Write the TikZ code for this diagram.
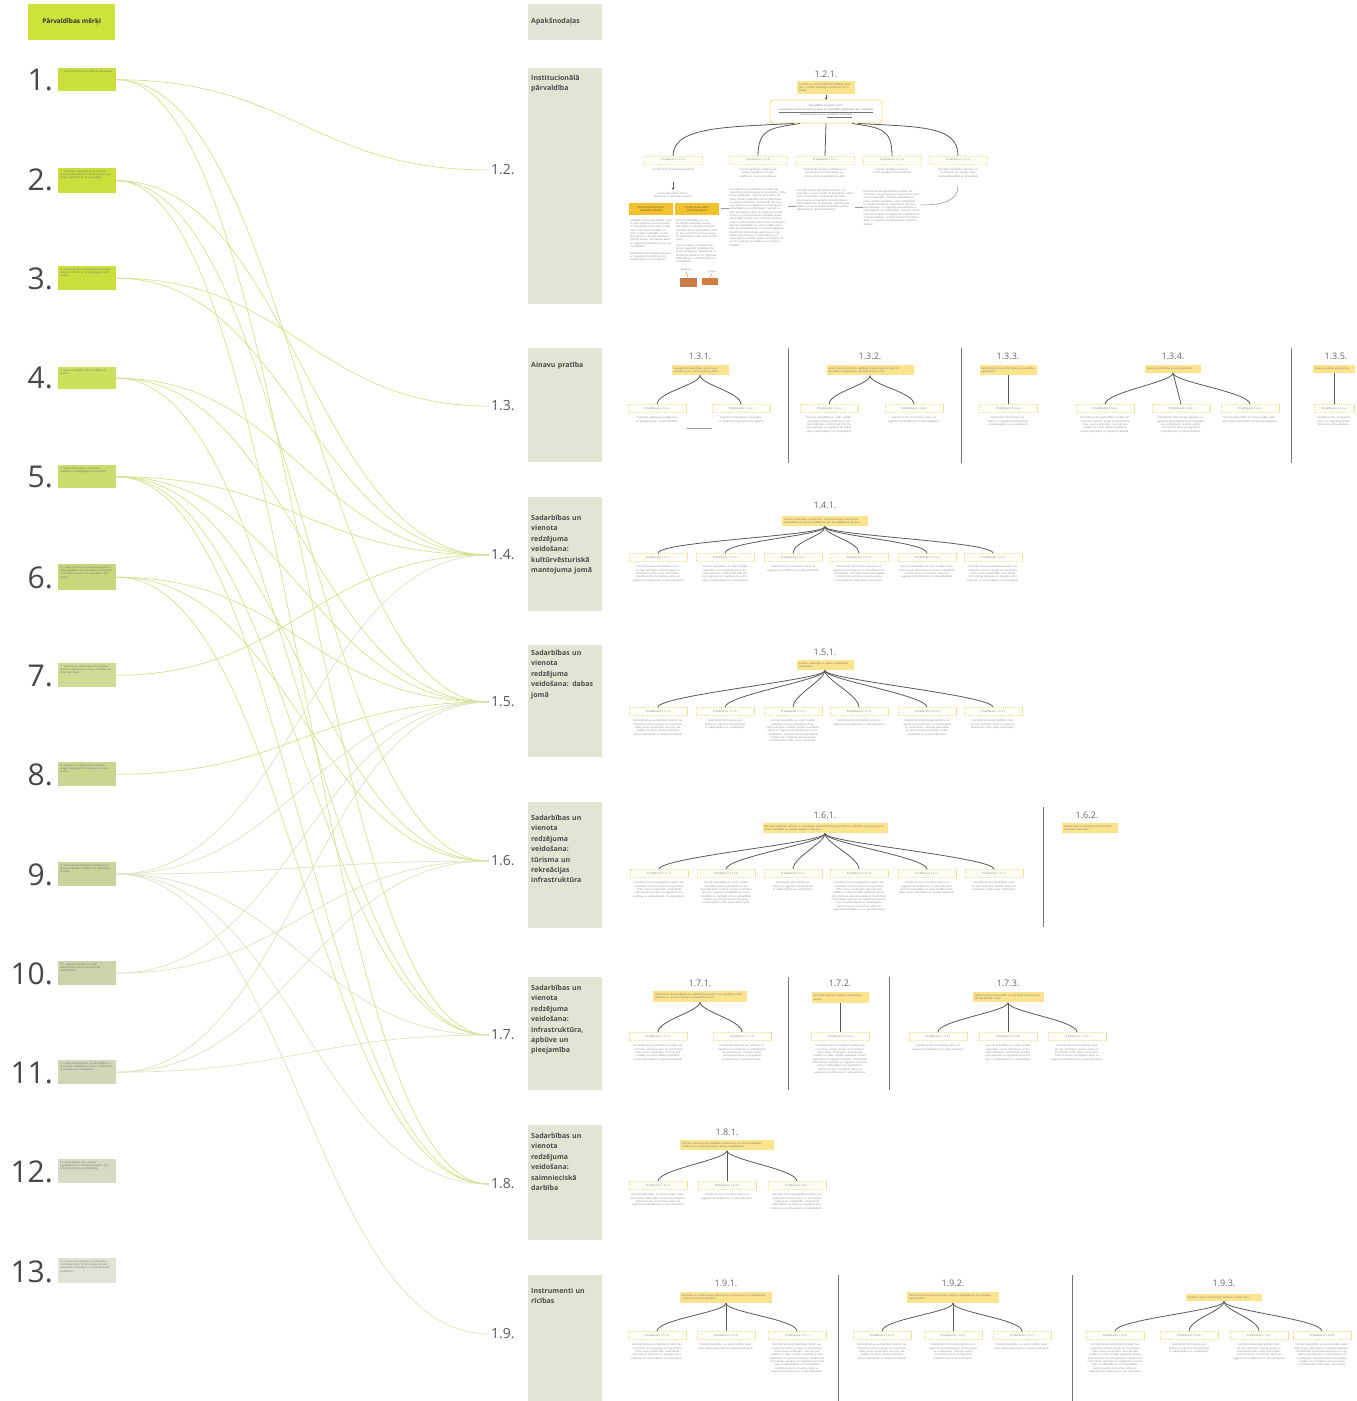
\documentclass[tikz,border=0pt]{standalone}
\usepackage{fontspec}
\setmainfont{Open Sans}
\usetikzlibrary{calc,arrows.meta}
\definecolor{hdr}{HTML}{CDE23B}
\definecolor{gA}{HTML}{CADF3C}
\definecolor{gB}{HTML}{CCE05C}
\definecolor{gC}{HTML}{C9DC6E}
\definecolor{gD}{HTML}{C6D77C}
\definecolor{gE}{HTML}{CFDB92}
\definecolor{gF}{HTML}{CAD690}
\definecolor{gG}{HTML}{C9D49C}
\definecolor{gH}{HTML}{CBD3A8}
\definecolor{gI}{HTML}{D1D6B6}
\definecolor{gJ}{HTML}{D6D9C4}
\definecolor{gK}{HTML}{E1E3D7}
\definecolor{secfill}{HTML}{E3E5D4}
\definecolor{ylw}{HTML}{FCE48E}
\definecolor{dsh}{HTML}{EEE0A0}
\definecolor{gold}{HTML}{F2C12E}
\definecolor{brn}{HTML}{C97A4A}
\definecolor{lnk}{HTML}{D3E38F}
\definecolor{lnkp}{HTML}{DDE3C2}
\newcommand\tf{\fontsize{2.6pt}{3.3pt}\selectfont}
\newcommand\secf{\fontsize{7pt}{10.4pt}\selectfont\bfseries}
\newcommand\numf{\fontsize{30pt}{30pt}\selectfont}
\newcommand\txA{Izstrādāt ainavu pārvaldības modeli, kas nodrošina vienotu pieeju un koordinētu rīcību starp institūcijām.}
\newcommand\txB{Veicināt pašvaldību un valsts iestāžu sadarbību ainavu plānošanā un apsaimniekošanā.}
\newcommand\txC{Nodrošināt informācijas apmaiņu un regulāras konsultācijas ar iedzīvotājiem un uzņēmējiem.}
\newcommand\txD{Izvērtēt esošos normatīvos aktus un sagatavot priekšlikumus to pilnveidošanai.}
\newcommand\txL{\txA{} \txB{} \txC{} \txD{}}
\newcommand\ttl[3]{\node[ttlf] at (#1,#2) {#3};}
\newcommand\yb[5]{\node[ybox, text width=#4] (#1) at (#2,#3) {#5};}
\newcommand\kid[5]{\node[kidbox] (#1) at (#2,#3) {Priekšlikums #4};
  \node[kidtxt, anchor=north] (#1t) at ([yshift=-4pt]#1.south) {#5};}
\newcommand\brn[2]{\draw[branch] (#1) .. controls +(0,9) and +(0,-12) .. (#2.north);}
\newcommand\gl[2]{\draw[link] (#1.east) .. controls +(175,0) and +(-175,0) .. (#2.west);}
\newcommand\glp[2]{\draw[link, draw=lnkp] (#1.east) .. controls +(175,0) and +(-175,0) .. (#2.west);}
\begin{document}
\begin{tikzpicture}[x=1pt,y=-1pt,
  goalbox/.style={fill=#1, minimum width=58pt, minimum height=24pt, anchor=north west, inner sep=0pt},
  goaltxt/.style={anchor=north west, text width=52pt, align=left, font=\tf, text=black!55, inner sep=2pt},
  num/.style={font=\numf, text=black!72, anchor=base east, inner sep=0pt},
  secbox/.style={fill=secfill, minimum width=74pt, anchor=north west, inner sep=0pt},
  sectxt/.style={anchor=north west, font=\secf, text=black!70, text width=70pt, align=left, inner sep=0pt},
  seclab/.style={font=\fontsize{14pt}{14pt}\selectfont, text=black!65, anchor=west, inner sep=2pt},
  link/.style={draw=lnk, line width=0.7pt},
  ttlf/.style={font=\fontsize{9pt}{9pt}\selectfont, text=black!60, inner sep=0pt},
  ybox/.style={fill=ylw, font=\tf, text=black!55, align=left, inner xsep=2pt, inner ysep=2.5pt},
  kidbox/.style={draw=dsh, dashed, dash pattern=on 1.2pt off 0.8pt, line width=0.5pt, fill=yellow!3, minimum width=58pt, minimum height=8pt, inner sep=0pt, font=\tf, text=black!50},
  kidtxt/.style={text width=55pt, align=center, font=\tf, text=black!45, inner sep=0pt},
  paratxt/.style={align=left, font=\tf, text=black!45, inner sep=0pt, anchor=north},
  branch/.style={draw=black!65, line width=0.8pt},
  divl/.style={draw=black!55, line width=0.8pt},
  tarrow/.style={draw=black!65, line width=0.6pt, -{Stealth[length=2.5pt,width=2.5pt]}}
]
\useasboundingbox (0,0) rectangle (1357,1401);
\fill[white] (0,0) rectangle (1357,1401);

% ---------- left column: goals ----------
\node[fill=hdr, minimum width=87pt, minimum height=36pt, anchor=north west, inner sep=0pt] (hdr) at (28,4) {};
\node[font=\fontsize{6.5pt}{8pt}\selectfont\bfseries, text=black!80] at (hdr.center) {Pārvaldības mērķi};

\node[goalbox=gA, minimum height=23pt] (g1) at (58,68) {};
\node[goaltxt] at (g1.north west) {1. Valsts ĪADT institucionālā un pārvaldība};
\node[num] at (53,90) {1.};
\node[goalbox=gA, minimum height=25pt] (g2) at (58,168) {};
\node[goaltxt] at (g2.north west) {2. Stiprināta sadarbība starp institūcijām un pašvaldībām, vienota izpratne par ainavu vērtībām un to aizsardzību};
\node[num] at (53,190) {2.};
\node[goalbox=gA] (g3) at (58,266) {};
\node[goaltxt] at (g3.north west) {3. Ainavu pratība sabiedrībā, izpratne par ainavu vērtībām un to ilgtspējīgu izmantošanu};
\node[num] at (53,289) {3.};
\node[goalbox=gB, minimum height=22pt] (g4) at (58,367) {};
\node[goaltxt] at (g4.north west) {4. Ainavu kvalitātes mērķi noteikti un ievēroti};
\node[num] at (53,388) {4.};
\node[goalbox=gC, minimum height=23pt] (g5) at (58,465) {};
\node[goaltxt] at (g5.north west) {5. Kultūrvēsturiskais mantojums saglabāts un ilgtspējīgi apsaimniekots};
\node[num] at (53,487) {5.};
\node[goalbox=gD, minimum height=26pt] (g6) at (58,564) {};
\node[goaltxt] at (g6.north west) {6. Dabas vērtības un ainaviskā daudzveidība saglabāta, veicinot dabas un kultūras mantojuma sasaisti un sabiedrības līdzdalību};
\node[num] at (53,588) {6.};
\node[goalbox=gE] (g7) at (58,663) {};
\node[goaltxt] at (g7.north west) {7. Tūrisma un rekreācijas infrastruktūra attīstīta, saskaņota ar ainavu vērtībām un vides nestspēju};
\node[num] at (53,686) {7.};
\node[goalbox=gF] (g8) at (58,762) {};
\node[goaltxt] at (g8.north west) {8. Apbūve un infrastruktūra iekļaujas ainavā, saglabājot tās raksturu un pieejamību};
\node[num] at (53,785) {8.};
\node[goalbox=gG] (g9) at (58,862) {};
\node[goaltxt] at (g9.north west) {9. Saimnieciskā darbība ir saskaņota ar ainavu kvalitātes mērķiem un ilgtspējīgu attīstību};
\node[num] at (53,885) {9.};
\node[goalbox=gH] (g10) at (58,961) {};
\node[goaltxt] at (g10.north west) {10. Lauksaimniecības un mežsaimniecības zemes ainaviski apsaimniekotas};
\node[num] at (53,984) {10.};
\node[goalbox=gI] (g11) at (58,1060) {};
\node[goaltxt] at (g11.north west) {11. Ainavu plānošanas un pārvaldības instrumenti izstrādāti un ieviesti, nodrošinot uzraudzību un novērtēšanu};
\node[num] at (53,1083) {11.};
\node[goalbox=gJ] (g12) at (58,1159) {};
\node[goaltxt] at (g12.north west) {12. Finansējuma avoti ainavu saglabāšanai un attīstībai pieejami, tos izmanto efektīvi un mērķtiecīgi};
\node[num] at (53,1182) {12.};
\node[goalbox=gK, minimum height=25pt] (g13) at (58,1258) {};
\node[goaltxt] at (g13.north west) {13. Ainavu monitorings un pētniecība nodrošina datus lēmumu pieņemšanai, sabiedrība informēta un iesaistīta ainavu jautājumos};
\node[num] at (53,1282) {13.};

% ---------- middle column: sections ----------
\node[secbox, minimum height=36pt] (h2) at (528,4) {};
\node[sectxt, anchor=west] at (531,22) {Apakšnodaļas};
\node[secbox, minimum height=236pt] (b2) at (528,68) {};
\node[sectxt] at (531,75) {Institucionālā\\pārvaldība};
\node[secbox, minimum height=114pt] (b3) at (528,348) {};
\node[sectxt] at (531,362) {Ainavu pratība};
\node[secbox, minimum height=114pt] (b4) at (528,497) {};
\node[sectxt] at (531,515) {Sadarbības un\\vienota\\redzējuma\\veidošana:\\kultūrvēsturiskā\\mantojuma jomā};
\node[secbox, minimum height=112pt] (b5) at (528,645) {};
\node[sectxt] at (531,650) {Sadarbības un\\vienota\\redzējuma\\veidošana: dabas\\jomā};
\node[secbox, minimum height=126pt] (b6) at (528,802) {};
\node[sectxt] at (531,815) {Sadarbības un\\vienota\\redzējuma\\veidošana:\\tūrisma un\\rekreācijas\\infrastruktūra};
\node[secbox, minimum height=113pt] (b7) at (528,977) {};
\node[sectxt] at (531,985) {Sadarbības un\\vienota\\redzējuma\\veidošana:\\infrastruktūra,\\apbūve un\\pieejamība};
\node[secbox, minimum height=115pt] (b8) at (528,1125) {};
\node[sectxt] at (531,1133) {Sadarbības un\\vienota\\redzējuma\\veidošana:\\saimnieciskā\\darbība};
\node[secbox, minimum height=126pt] (b9) at (528,1275) {};
\node[sectxt] at (531,1288) {Instrumenti un\\rīcības};

\node[seclab] (s2) at (489,170) {1.2.};
\node[seclab] (s3) at (489,406) {1.3.};
\node[seclab] (s4) at (489,555) {1.4.};
\node[seclab] (s5) at (489,702) {1.5.};
\node[seclab] (s6) at (489,861) {1.6.};
\node[seclab] (s7) at (489,1035) {1.7.};
\node[seclab] (s8) at (489,1184) {1.8.};
\node[seclab] (s9) at (489,1334) {1.9.};

% ---------- goal -> section links ----------
\gl{g1}{s2} \gl{g1}{s5} \gl{g1}{s7}
\gl{g2}{s4} \gl{g2}{s6} \gl{g2}{s8}
\gl{g3}{s3} \gl{g3}{s4}
\gl{g4}{s4} \gl{g4}{s5} \gl{g4}{s7}
\gl{g5}{s4} \gl{g5}{s5} \gl{g5}{s6} \gl{g5}{s7} \gl{g5}{s8}
\gl{g6}{s5} \gl{g6}{s6} \gl{g6}{s8}
\gl{g7}{s4}
\gl{g8}{s5}
\glp{g9}{s4} \glp{g9}{s5} \glp{g9}{s6} \glp{g9}{s7} \glp{g9}{s8} \glp{g9}{s9}
\glp{g10}{s5} \glp{g10}{s6}
\glp{g11}{s5} \glp{g11}{s6} \glp{g11}{s7}

% ---------- 1.2.1 ----------
\ttl{826}{74}{1.2.1.}
\yb{y121}{826}{87.5}{54}{Izveidot un uzturēt ĪADT pārvaldības struktūru, nosakot atbildīgās institūcijas un to lomas}
\draw[tarrow] (y121.south) -- (826,100);
\node[draw=ylw!90!orange, fill=white, rounded corners=3pt, line width=0.9pt, minimum width=112pt, minimum height=23pt, text width=100pt, align=center, font=\tf, text=black!55, inner sep=1pt] (w121) at (826,111.5) {Pārvaldības struktūra ietver \underline{koordinācijas padomi, darba grupas un pašvaldību pārstāvjus, kas nodrošina} vienotu pieeju ainavu \underline{jautājumu risināšanā}};
\kid{k121a}{673}{160}{1.2.1.a}{Izveidot ĪADT konsultatīvo padomi}
\kid{k121b}{758}{160}{1.2.1.b}{Izveidot pastāvīgu darba grupu ainavu jautājumos ar pašvaldību un nozaru pārstāvjiem}
\kid{k121c}{825}{160}{1.2.1.c}{Nodrošināt regulāru sanāksmju organizēšanu un informācijas apmaiņu starp iesaistītajām pusēm}
\kid{k121d}{892}{160}{1.2.1.d}{Noteikt atbildīgo institūciju ainavu jautājumu koordinācijai}
\kid{k121e}{958}{160}{1.2.1.e}{Izstrādāt sadarbības līgumus un vienošanās par kopīgu rīcību ainavu pārvaldībā un plānošanā}
\draw[branch] ($(w121.south)+(-32,0)$) .. controls (730,127) and (673,126) .. (k121a.north);
\draw[branch] ($(w121.south)+(-26,0)$) .. controls (772,128) and (758,128) .. (k121b.north);
\draw[branch] (w121.south) -- (k121c.north);
\draw[branch] ($(w121.south)+(26,0)$) .. controls (880,128) and (892,128) .. (k121d.north);
\draw[branch] ($(w121.south)+(32,0)$) .. controls (922,127) and (958,126) .. (k121e.north);
\draw[tarrow] (673,182) -- (673,190);
\node[kidtxt, anchor=north] (k121x) at (673,192) {Jaunu sadarbības formu ieviešana un institūciju iesaiste};
\node[fill=gold, minimum width=44pt, minimum height=12pt, text width=42pt, align=center, font=\tf, text=black!70, inner sep=0pt] (gd1) at (651,209) {Konsultatīvā padome\\pašvaldību līmenī};
\node[fill=gold, minimum width=44pt, minimum height=12pt, text width=42pt, align=center, font=\tf, text=black!70, inner sep=0pt] (gd2) at (697,209) {Darba grupa valsts\\institūciju līmenī};
\node[paratxt, text width=42pt] at (651,219) {\txA{} \txB{} \txD};
\node[paratxt, text width=42pt] at (651,252) {\txC};
\node[paratxt, text width=42pt] at (697,219) {\txB{} \txA};
\node[paratxt, text width=42pt] at (697,244) {\txD{} \txC};
\node[font=\tf, text=black!50, inner sep=0pt] (sm1) at (686,270) {padome};
\node[font=\tf, text=black!50, inner sep=0pt] (sm2) at (712,272) {grupa};
\node[fill=brn, minimum width=17pt, minimum height=9pt, inner sep=0pt] (br1) at (688,282) {};
\node[fill=brn!85!orange, minimum width=16pt, minimum height=7pt, inner sep=0pt] (br2) at (710,281) {};
\draw[draw=brn, line width=0.4pt] (sm1.south) -- (br1.north);
\draw[draw=brn, line width=0.4pt] (sm2.south) -- (br2.north);
\node[paratxt, text width=57pt] (p121b) at (758,188) {\txL{} \txL};
\node[paratxt, text width=57pt] (p121c) at (825,189) {\txA{} \txC{} \txB};
\node[paratxt, text width=57pt] (p121d) at (892,190) {\txL{} \txD};
\draw[draw=black!40, line width=0.4pt] (721,208) -- (729,208);
\draw[draw=black!40, line width=0.4pt] (788,206) -- (796,206);
\draw[draw=black!40, line width=0.4pt] (855,207) -- (863,207);
\draw[draw=black!45, line width=0.5pt] (958,186) .. controls (958,200) and (945,205) .. (921,205);

% ---------- 1.3 ----------
\draw[divl] (788,348) -- (788,463);
\draw[divl] (961,348) -- (961,463);
\draw[divl] (1291,348) -- (1291,463);
\ttl{700}{356}{1.3.1.}
\yb{y131}{700}{370}{53}{Paaugstināt sabiedrības izpratni par ainavām un to nozīmi ikdienas dzīvē}
\kid{k131a}{657}{408.5}{1.3.1.a}{Organizēt izglītojošus pasākumus un kampaņas par ainavu vērtībām}
\kid{k131b}{741}{408.5}{1.3.1.b}{Sagatavot informatīvus materiālus un publikācijas par ainavām reģionā}
\brn{y131.south}{k131a} \brn{y131.south}{k131b}
\draw[draw=black!40, line width=0.4pt] (687,428) -- (712,428);
\ttl{870}{356}{1.3.2.}
\yb{y132}{870}{370}{83}{Iekļaut ainavu tematiku izglītības programmās un veicināt speciālistu kompetenču pilnveidi ainavu jomā}
\kid{k132a}{829}{408.5}{1.3.2.a}{\txB{} \txC}
\kid{k132b}{914}{408.5}{1.3.2.b}{\txD}
\brn{y132.south}{k132a} \brn{y132.south}{k132b}
\ttl{1008}{356}{1.3.3.}
\yb{y133}{1008}{370}{53}{Nodrošināt ainavu informācijas pieejamību sabiedrībai}
\kid{k133a}{1008}{408.5}{1.3.3.a}{\txC}
\draw[branch] (y133.south) -- (k133a.north);
\ttl{1173}{356}{1.3.4.}
\yb{y134}{1173}{369}{52}{Iesaistīt sabiedrību ainavu plānošanā}
\kid{k134a}{1105}{408.5}{1.3.4.a}{\txA{} \txB}
\kid{k134b}{1181}{408.5}{1.3.4.b}{\txC{} \txD}
\kid{k134c}{1250}{408.5}{1.3.4.c}{\txB}
\brn{y134.south}{k134a} \draw[branch] (y134.south) -- (k134b.north); \brn{y134.south}{k134c}
\ttl{1336}{356}{1.3.5.}
\yb{y135}{1334}{369}{38}{Ainavu pratības programma}
\node[kidbox, minimum width=40pt] (k135a) at (1334,408.5) {Priekšlikums 1.3.5.a};
\node[kidtxt, text width=38pt, anchor=north] (k135at) at ([yshift=-4pt]k135a.south) {\txD};
\draw[branch] (y135.south) -- (k135a.north);

% ---------- 1.4.1 ----------
\ttl{825}{505}{1.4.1.}
\yb{y141}{825}{521}{82}{Izveidot sadarbības mehānismu kultūrvēsturiskā mantojuma aizsardzībai un vienotu redzējumu par tā saglabāšanu ainavā}
\kid{k141a}{658}{557.5}{1.4.1.a}{\txA{} \txD}
\kid{k141b}{725}{557.5}{1.4.1.b}{\txB{} \txC}
\kid{k141c}{793}{557.5}{1.4.1.c}{\txD}
\kid{k141d}{859}{557.5}{1.4.1.d}{\txC{} \txA}
\kid{k141e}{927}{557.5}{1.4.1.e}{\txB{} \txD}
\kid{k141f}{993}{557.5}{1.4.1.f}{\txA{} \txC}
\foreach \k in {a,b,c,d,e,f}{\brn{y141.south}{k141\k}}

% ---------- 1.5.1 ----------
\ttl{825}{652}{1.5.1.}
\yb{y151}{825}{665}{53}{Izveidot sadarbību ar dabas aizsardzības institūcijām}
\kid{k151a}{658}{711.5}{1.5.1.a}{\txA{} \txB}
\kid{k151b}{725}{711.5}{1.5.1.b}{\txC}
\kid{k151c}{793}{711.5}{1.5.1.c}{\txB{} \txD{} \txA}
\kid{k151d}{859}{711.5}{1.5.1.d}{\txD}
\kid{k151e}{927}{711.5}{1.5.1.e}{\txC{} \txB}
\kid{k151f}{993}{711.5}{1.5.1.f}{\txA}
\foreach \k in {a,b,c,d,e,f}{\brn{y151.south}{k151\k}}

% ---------- 1.6 ----------
\ttl{825}{815}{1.6.1.}
\yb{y161}{825}{828}{121}{Veicināt sadarbību tūrisma un rekreācijas infrastruktūras plānošanā un attīstībā, saskaņojot to ar ainavu vērtībām un vietējo kopienu interesēm}
\kid{k161a}{659}{873.5}{1.6.1.a}{\txA{} \txC}
\kid{k161b}{726}{873.5}{1.6.1.b}{\txB{} \txD{} \txA}
\kid{k161c}{793}{873.5}{1.6.1.c}{\txC}
\kid{k161d}{859}{873.5}{1.6.1.d}{\txL}
\kid{k161e}{927}{873.5}{1.6.1.e}{\txD{} \txB}
\kid{k161f}{994}{873.5}{1.6.1.f}{\txA}
\foreach \k in {a,b,c,d,e,f}{\brn{y161.south}{k161\k}}
\draw[divl] (1043,807) -- (1043,927);
\ttl{1087}{815}{1.6.2.}
\yb{y162}{1090}{828}{52}{Izveidot vienotu tūrisma maršrutu tīklu ainaviskās teritorijās}

% ---------- 1.7 ----------
\ttl{700}{983}{1.7.1.}
\yb{y171}{700}{996.5}{90}{Nodrošināt infrastruktūras un apbūves plānošanu, kas respektē ainavu raksturu un veicina teritorijas pieejamību visiem}
\kid{k171a}{658}{1036.5}{1.7.1.a}{\txA{} \txB}
\kid{k171b}{742}{1036.5}{1.7.1.b}{\txC{} \txD}
\brn{y171.south}{k171a} \brn{y171.south}{k171b}
\draw[divl] (788,977) -- (788,1090);
\ttl{840}{983}{1.7.2.}
\yb{y172}{840}{997.5}{53}{Izstrādāt vadlīnijas apbūves iekļaušanai ainavā}
\kid{k172a}{840}{1036.5}{1.7.2.a}{\txL}
\draw[branch] (y172.south) -- (k172a.north);
\draw[divl] (889,977) -- (889,1090);
\ttl{1008}{983}{1.7.3.}
\yb{y173}{1008}{997}{67}{Uzlabot ainavu pieejamību un publiskās ārtelpas kvalitāti apdzīvotās vietās}
\kid{k173a}{938}{1036.5}{1.7.3.a}{\txD}
\kid{k173b}{1008}{1036.5}{1.7.3.b}{\txB{} \txC}
\kid{k173c}{1077}{1036.5}{1.7.3.c}{\txA{} \txD}
\brn{y173.south}{k173a} \draw[branch] (y173.south) -- (k173b.north); \brn{y173.south}{k173c}

% ---------- 1.8.1 ----------
\ttl{727}{1132}{1.8.1.}
\yb{y181}{727}{1145}{90}{Veicināt saimnieciskās darbības saskaņošanu ar ainavu kvalitātes mērķiem un uzņēmēju iesaisti ainavu saglabāšanā}
\kid{k181a}{658}{1185.5}{1.8.1.a}{\txB{} \txD}
\kid{k181b}{727}{1185.5}{1.8.1.b}{\txD}
\kid{k181c}{797}{1185.5}{1.8.1.c}{\txA{} \txC}
\brn{y181.south}{k181a} \draw[branch] (y181.south) -- (k181b.north); \brn{y181.south}{k181c}

% ---------- 1.9 ----------
\ttl{726}{1283}{1.9.1.}
\yb{y191}{726}{1297.5}{88}{Izstrādāt un ieviest ainavu plānošanas instrumentus un uzraudzības sistēmu teritorijas attīstībai}
\kid{k191a}{657}{1335.5}{1.9.1.a}{\txA{} \txC}
\kid{k191b}{726}{1335.5}{1.9.1.b}{\txB}
\kid{k191c}{797}{1335.5}{1.9.1.c}{\txL}
\brn{y191.south}{k191a} \draw[branch] (y191.south) -- (k191b.north); \brn{y191.south}{k191c}
\draw[divl] (838,1275) -- (838,1401);
\ttl{953}{1283}{1.9.2.}
\yb{y192}{953}{1297.5}{88}{Nodrošināt finansējuma piesaisti ainavu saglabāšanas un attīstības pasākumiem}
\kid{k192a}{882}{1335.5}{1.9.2.a}{\txA{} \txB}
\kid{k192b}{953}{1335.5}{1.9.2.b}{\txC{} \txD}
\kid{k192c}{1022}{1335.5}{1.9.2.c}{\txB}
\brn{y192.south}{k192a} \draw[branch] (y192.south) -- (k192b.north); \brn{y192.south}{k192c}
\draw[divl] (1072,1275) -- (1072,1401);
\ttl{1224}{1283}{1.9.3.}
\yb{y193}{1224}{1297.5}{72}{Izveidot ainavu monitoringa sistēmu un datu bāzi}
\kid{k193a}{1115}{1335.5}{1.9.3.a}{\txL}
\kid{k193b}{1189}{1335.5}{1.9.3.b}{\txC}
\kid{k193c}{1259}{1335.5}{1.9.3.c}{\txA{} \txD}
\kid{k193d}{1322}{1335.5}{1.9.3.d}{\txB{} \txC{} \txA}
\foreach \k in {a,b,c,d}{\brn{y193.south}{k193\k}}
\end{tikzpicture}
\end{document}
